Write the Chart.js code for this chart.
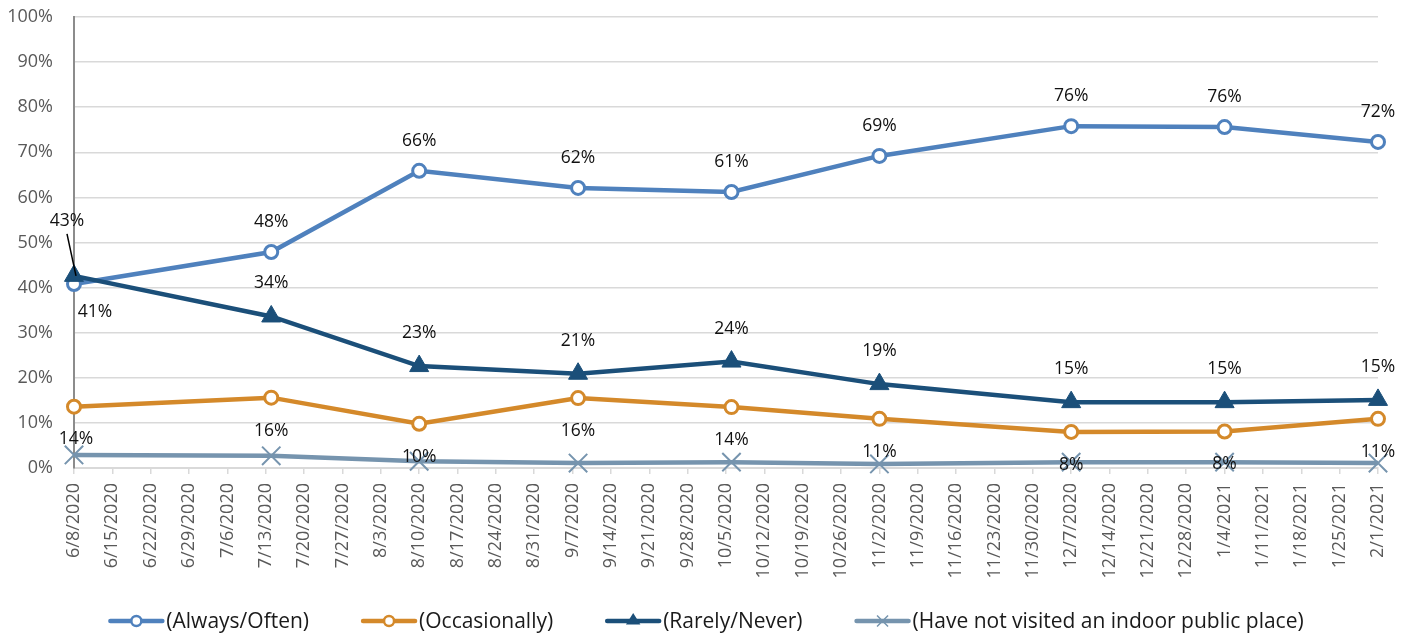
<!DOCTYPE html>
<html><head><meta charset="utf-8">
<script src="https://cdn.jsdelivr.net/npm/chart.js@4.4.0/dist/chart.umd.min.js"></script>
<style>html,body{margin:0;padding:0;background:#fff}#wrap{width:1412px;height:635px;position:relative}</style>
</head><body><div id="wrap"><canvas id="c" width="1412" height="635"></canvas></div>
<script>
const weekLabels = ['6/8/2020','6/15/2020','6/22/2020','6/29/2020','7/6/2020','7/13/2020','7/20/2020','7/27/2020','8/3/2020','8/10/2020','8/17/2020','8/24/2020','8/31/2020','9/7/2020','9/14/2020','9/21/2020','9/28/2020','10/5/2020','10/12/2020','10/19/2020','10/26/2020','11/2/2020','11/9/2020','11/16/2020','11/23/2020','11/30/2020','12/7/2020','12/14/2020','12/21/2020','12/28/2020','1/4/2021','1/11/2021','1/18/2021','1/25/2021','2/1/2021'];
const surveyDates = ['6/8/2020','7/14/2020','8/10/2020','9/8/2020','10/6/2020','11/2/2020','12/7/2020','1/4/2021','2/1/2021'];
const alwaysOften  = [40.8, 47.9, 65.9, 62.1, 61.2, 69.2, 75.8, 75.6, 72.3];
const occasionally = [13.6, 15.6, 9.8, 15.5, 13.5, 10.9, 8.0, 8.1, 10.9];
const rarelyNever  = [42.6, 33.6, 22.6, 20.9, 23.6, 18.6, 14.6, 14.6, 15.1];
const notVisited   = [2.9, 2.7, 1.5, 1.1, 1.3, 0.9, 1.3, 1.3, 1.1];
const seriesNames = ['(Always/Often)','(Occasionally)','(Rarely/Never)','(Have not visited an indoor public place)'];

const FONT = "'Open Sans', sans-serif";
const colors = ['#4F81BD','#D4892A','#1B4F79','#7694AE'];
const parseDate = s => { const [m,d,y] = s.split('/').map(Number); return new Date(y, m-1, d); };
const day0 = parseDate(weekLabels[0]);
const dayNum = s => Math.round((parseDate(s) - day0) / 86400000);
const lastDay = dayNum(weekLabels[weekLabels.length-1]);
const toPts = vals => surveyDates.map((d,i)=>({x:dayNum(d), y:vals[i]}));

const labelPlugin = {
  id:'dataLabels',
  afterDatasetsDraw(chart){
    const ctx = chart.ctx;
    ctx.save();
    ctx.font = "17.5px " + FONT;
    ctx.fillStyle = '#111';
    ctx.textAlign = 'center';
    ctx.textBaseline = 'middle';
    chart.data.datasets.forEach((ds,di)=>{
      const cfg = ds.labelCfg;
      if(!cfg) return;
      const meta = chart.getDatasetMeta(di);
      meta.data.forEach((pt,i)=>{
        const v = ds.data[i].y;
        const ov = (cfg.overrides||{})[i] || {};
        const dx = ov.dx ?? 0, dy = ov.dy ?? cfg.dy;
        const tx = pt.x + dx, ty = pt.y + dy;
        ctx.fillText(Math.round(v) + '%', tx, ty);
        if(ov.leader){
          ctx.strokeStyle = '#000'; ctx.lineWidth = 1.5;
          ctx.beginPath(); ctx.moveTo(tx, ty + 13); ctx.lineTo(pt.x + 2, pt.y); ctx.stroke();
        }
      });
    });
    ctx.restore();
  }
};

const legendPlugin = {
  id:'customLegend',
  afterDraw(chart){
    const ctx = chart.ctx;
    ctx.save();
    ctx.font = "21px " + FONT;
    const lineW = 56, gapT = 2, gapI = 52;
    const ds = chart.data.datasets;
    const widths = ds.map(d=>ctx.measureText(d.label).width);
    const total = widths.reduce((a,w)=>a+lineW+gapT+w,0) + gapI*(ds.length-1);
    let x = (chart.width - total)/2;
    const y = 621;
    ds.forEach((d,i)=>{
      const cx = x + lineW/2;
      ctx.strokeStyle = d.borderColor; ctx.lineWidth = 4.5; ctx.lineCap='round';
      ctx.beginPath(); ctx.moveTo(x+2,y); ctx.lineTo(x+lineW-2,y); ctx.stroke();
      ctx.lineCap='butt';
      ctx.fillStyle = d.pointBackgroundColor; ctx.strokeStyle = d.borderColor; ctx.lineWidth = 2.5;
      ctx.beginPath();
      if(d.pointStyle==='circle'){ctx.arc(cx,y,5,0,Math.PI*2);ctx.fill();ctx.stroke();}
      else if(d.pointStyle==='triangle'){const r=8;ctx.fillStyle=d.borderColor;ctx.moveTo(cx,y-r);ctx.lineTo(cx+r*0.9,y+r*0.45);ctx.lineTo(cx-r*0.9,y+r*0.45);ctx.closePath();ctx.fill();}
      else {const r=5.5;ctx.lineWidth=1.5;ctx.moveTo(cx-r,y-r);ctx.lineTo(cx+r,y+r);ctx.moveTo(cx+r,y-r);ctx.lineTo(cx-r,y+r);ctx.stroke();}
      ctx.fillStyle = '#1a1a1a'; ctx.textAlign='left'; ctx.textBaseline='middle';
      ctx.fillText(d.label, x+lineW+gapT, y+1);
      x += lineW+gapT+widths[i]+gapI;
    });
    ctx.restore();
  }
};

new Chart(document.getElementById('c'), {
  type:'line',
  data:{
    datasets:[
      {label:seriesNames[0], data:toPts(alwaysOften), borderColor:colors[0], backgroundColor:colors[0], clip:false,
       borderWidth:4.5, pointStyle:'circle', pointRadius:6.5, pointBorderWidth:3, pointBackgroundColor:'#fff', pointBorderColor:colors[0], order:1,
       labelCfg:{dy:-30, overrides:{0:{dx:21, dy:28}}}},
      {label:seriesNames[1], data:toPts(occasionally), borderColor:colors[1], backgroundColor:colors[1], clip:false,
       borderWidth:4.5, pointStyle:'circle', pointRadius:6.5, pointBorderWidth:3, pointBackgroundColor:'#fff', pointBorderColor:colors[1], order:2,
       labelCfg:{dy:33, overrides:{0:{dx:2, dy:32}}}},
      {label:seriesNames[2], data:toPts(rarelyNever), borderColor:colors[2], backgroundColor:colors[2], clip:false,
       borderWidth:4.5, pointStyle:'triangle', pointRadius:11, pointBorderWidth:1, pointBackgroundColor:colors[2], pointBorderColor:colors[2], order:0,
       labelCfg:{dy:-33, overrides:{0:{dx:-7, dy:-55, leader:true}}}},
      {label:seriesNames[3], data:toPts(notVisited), borderColor:colors[3], backgroundColor:colors[3], clip:false,
       borderWidth:4.5, pointStyle:'crossRot', pointRadius:13, pointBorderWidth:2, pointBackgroundColor:colors[3], pointBorderColor:colors[3], order:3}
    ]
  },
  options:{
    responsive:false, animation:false, devicePixelRatio:1,
    layout:{padding:{top:17, right:34, bottom:52, left:0}},
    plugins:{legend:{display:false}, tooltip:{enabled:false}},
    elements:{line:{tension:0}},
    scales:{
      x:{
        type:'linear', min:0, max:lastDay,
        afterFit(s){ s.height = 115; },
        ticks:{stepSize:7, autoSkip:false, maxRotation:90, minRotation:90, padding:9, color:'#595959', font:{family:FONT, size:18},
               callback:v=>weekLabels[Math.round(v/7)]},
        grid:{drawOnChartArea:false, drawTicks:true, tickLength:6, color:'#d9d9d9', lineWidth:1.5},
        border:{color:'#d9d9d9', width:2}
      },
      y:{
        min:0, max:100,
        afterFit(s){ s.width = 74; s.paddingTop = 0; s.paddingBottom = 0; },
        ticks:{stepSize:10, padding:21, color:'#595959', font:{family:FONT, size:18}, callback:v=>v+'%'},
        grid:{color:'#d9d9d9', lineWidth:1.5, drawTicks:false},
        border:{color:'#8c8c8c', width:2}
      }
    }
  },
  plugins:[labelPlugin, legendPlugin]
});
</script></body></html>
